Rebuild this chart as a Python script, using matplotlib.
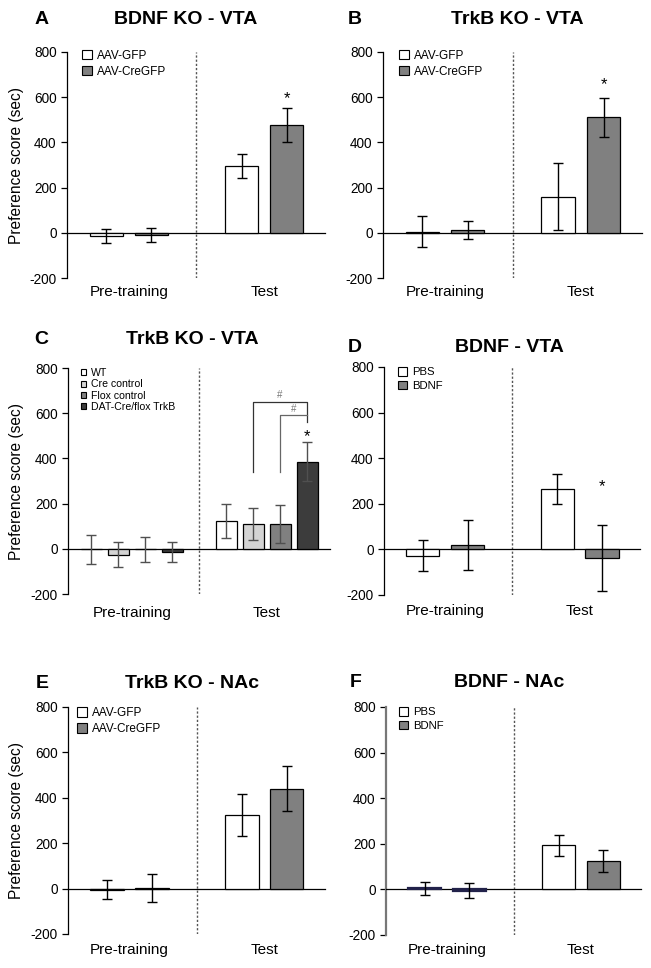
import numpy as np
import matplotlib.pyplot as plt
from matplotlib.patches import Patch

plt.rcParams['font.family'] = ['Liberation Sans', 'DejaVu Sans']
plt.rcParams['axes.unicode_minus'] = False

W, H = 651, 968
groups = ['Pre-training', 'Test']
yticks = [-200, 0, 200, 400, 600, 800]

# A - BDNF KO - VTA
a_labels = ['AAV-GFP', 'AAV-CreGFP']
a_pre = [-13, -10]
a_pre_err = [30, 31]
a_test = [297, 478]
a_test_err = [53, 75]
a_star = 614

# B - TrkB KO - VTA
b_labels = ['AAV-GFP', 'AAV-CreGFP']
b_pre = [5, 12]
b_pre_err = [68, 41]
b_test = [160, 511]
b_test_err = [149, 86]
b_star = 678

# C - TrkB KO - VTA (transgenic)
c_labels = ['WT', 'Cre control', 'Flox control', 'DAT-Cre/flox TrkB']
c_pre = [-3, -26, -3, -13]
c_pre_err = [65, 55, 57, 45]
c_test = [122, 110, 111, 386]
c_test_err = [75, 72, 85, 87]
c_star = 517

# D - BDNF - VTA
d_labels = ['PBS', 'BDNF']
d_pre = [-27, 18]
d_pre_err = [68, 110]
d_test = [263, -37]
d_test_err = [66, 145]
d_star = 299

# E - TrkB KO - NAc
e_labels = ['AAV-GFP', 'AAV-CreGFP']
e_pre = [-4, 3]
e_pre_err = [43, 63]
e_test = [325, 440]
e_test_err = [92, 100]

# F - BDNF - NAc
f_labels = ['PBS', 'BDNF']
f_pre = [4, -5]
f_pre_err = [30, 33]
f_test = [193, 124]
f_test_err = [47, 49]

two_colors = ['white', '#808080']
four_colors = ['white', '#d4d4d4', '#808080', '#3c3c3c']

fig = plt.figure(figsize=(W / 100, H / 100), dpi=100)


def axes_px(left, top, right, bottom):
    return fig.add_axes([left / W, 1 - bottom / H, (right - left) / W, (bottom - top) / H])


def heading(letter, lx, title, tx, y):
    fig.text(lx / W, 1 - (y + 7) / H, letter, fontsize=14, fontweight='bold',
             ha='center', va='baseline')
    fig.text(tx / W, 1 - (y + 7) / H, title, fontsize=14, fontweight='bold',
             ha='center', va='baseline')


def panel(ax, pre, pre_err, test, test_err, colors, labels, label_y,
          ecolor='black', width=0.74, leg=(0.06, 1.0), leg_fs=8.5, hs=0.85, lsp=0.35):
    n = len(pre)
    xp = np.arange(n)
    xt = np.arange(n) + n + 1
    ekw = {'elinewidth': 1.0, 'capthick': 1.0}
    ax.bar(xp, pre, width=width, color=colors, edgecolor='black', linewidth=0.9,
           yerr=pre_err, ecolor=ecolor, capsize=3.6, error_kw=ekw, zorder=3)
    ax.bar(xt, test, width=width, color=colors, edgecolor='black', linewidth=0.9,
           yerr=test_err, ecolor=ecolor, capsize=3.6, error_kw=ekw, zorder=3)
    ax.axvline(n, color='#555555', lw=1.0, linestyle=(0, (1.6, 1.4)), zorder=1)
    ax.set_xlim(-0.87, 2 * n + 0.85)
    ax.set_ylim(-200, 800)
    ax.set_yticks(yticks)
    ax.tick_params(axis='y', labelsize=9.8, length=4.5, width=0.9, pad=3)
    ax.set_xticks([])
    for s in ['top', 'right']:
        ax.spines[s].set_visible(False)
    ax.spines['bottom'].set_position(('data', 0))
    ax.spines['bottom'].set_linewidth(0.9)
    ax.spines['left'].set_linewidth(0.9)
    tr = ax.get_xaxis_transform()
    ax.text(xp.mean(), label_y, groups[0], transform=tr, fontsize=11, ha='center', va='center')
    ax.text(xt.mean(), label_y, groups[1], transform=tr, fontsize=11, ha='center', va='center')
    handles = [Patch(facecolor=c, edgecolor='black', linewidth=0.8) for c in colors]
    ax.legend(handles, labels, loc='upper left', bbox_to_anchor=leg, frameon=False,
              fontsize=leg_fs, handlelength=hs, handleheight=hs, handletextpad=0.45,
              labelspacing=lsp, borderpad=0, borderaxespad=0)
    return xp, xt


def star(ax, x, y, fs=12):
    ax.annotate('*', (x, y), xytext=(0, -0.57 * fs), textcoords='offset points',
                ha='center', va='baseline', fontsize=fs)


ylab = 'Preference score (sec)'

# A
ax = axes_px(67, 52, 325, 278)
xp, xt = panel(ax, a_pre, a_pre_err, a_test, a_test_err, two_colors, a_labels, -0.06,
               leg=(0.058, 1.01))
star(ax, xt[1], a_star)
ax.set_ylabel(ylab, fontsize=11.2, va='center')
ax.yaxis.set_label_coords(-0.194, 0.5)
heading('A', 42, 'BDNF KO - VTA', 186, 17)

# B
ax = axes_px(383, 52, 642, 278)
xp, xt = panel(ax, b_pre, b_pre_err, b_test, b_test_err, two_colors, b_labels, -0.06,
               leg=(0.062, 1.01))
star(ax, xt[1], b_star)
heading('B', 355, 'TrkB KO - VTA', 517, 17)

# C
ax = axes_px(68, 368, 330, 594)
xp, xt = panel(ax, c_pre, c_pre_err, c_test, c_test_err, four_colors, c_labels, -0.084,
               ecolor='#505050', width=0.78, leg=(0.05, 1.0), leg_fs=7.6, hs=0.5, lsp=0.13)
star(ax, xt[3], c_star)
# comparison brackets
ax.plot([xt[1], xt[1], xt[3], xt[3]], [341, 650, 650, 561], color='#333333', lw=0.9)
ax.plot([xt[2], xt[2], xt[3]], [341, 591, 591], color='#666666', lw=0.9)
ax.text((xt[1] + xt[3]) / 2, 680, '#', fontsize=7, color='#777777', ha='center', va='center')
ax.text((xt[2] + xt[3]) / 2, 620, '#', fontsize=7, color='#777777', ha='center', va='center')
ax.set_ylabel(ylab, fontsize=11.2, va='center')
ax.yaxis.set_label_coords(-0.196, 0.5)
heading('C', 41, 'TrkB KO - VTA', 192, 337)

# D
ax = axes_px(384, 367, 640, 595)
xp, xt = panel(ax, d_pre, d_pre_err, d_test, d_test_err, two_colors, d_labels, -0.069,
               leg=(0.055, 1.0), leg_fs=8.2, hs=0.8, lsp=0.3)
star(ax, xt[1], d_star)
heading('D', 355, 'BDNF - VTA', 509, 345)

# E
ax = axes_px(68, 707, 325, 934)
xp, xt = panel(ax, e_pre, e_pre_err, e_test, e_test_err, two_colors, e_labels, -0.07,
               leg=(0.035, 1.0))
ax.set_ylabel(ylab, fontsize=11.2, va='center')
ax.yaxis.set_label_coords(-0.2, 0.5)
heading('E', 42, 'TrkB KO - NAc', 192, 681)

# F
ax = axes_px(386, 707, 641, 935)
xp, xt = panel(ax, f_pre, f_pre_err, f_test, f_test_err, two_colors, f_labels, -0.066,
               leg=(0.051, 1.0), leg_fs=8.2, hs=0.8, lsp=0.3)
for p in ax.patches[:2]:
    p.set_edgecolor('#22224a')
    p.set_linewidth(1.6)
ax.spines['left'].set_color('#777777')
ax.spines['left'].set_linewidth(1.6)
heading('F', 356, 'BDNF - NAc', 509, 680)

fig.savefig('out.png', dpi=100, facecolor='white')
